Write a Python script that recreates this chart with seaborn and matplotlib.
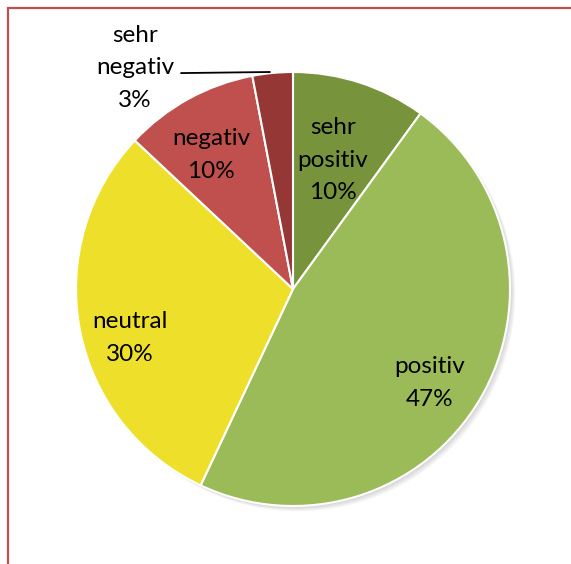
import matplotlib
matplotlib.use("Agg")
import matplotlib.pyplot as plt
from matplotlib.patches import Rectangle, Circle
import seaborn as sns

categories = ["sehr positiv", "positiv", "neutral", "negativ", "sehr negativ"]
values = [10, 47, 30, 10, 3]
label_texts = ["sehr\npositiv\n10%", "positiv\n47%", "neutral\n30%", "negativ\n10%", "sehr\nnegativ\n3%"]
colors = ["#77933C", "#9BBB59", "#EEE02A", "#C0504D", "#953735"]

sns.set_theme(style="white")
plt.rcParams["font.family"] = ["Lato", "DejaVu Sans"]

W, H = 571, 564
fig = plt.figure(figsize=(W / 100, H / 100), dpi=100)
fig.patch.set_facecolor("white")

# frame
fig.patches.append(Rectangle((7.5 / W, -0.1), 1.2, (H - 7.5) / H + 0.1, transform=fig.transFigure,
                             fill=False, edgecolor="#C0504D", linewidth=1.6, zorder=0))

cx, cy, R = 293, 289, 217
ax = fig.add_axes([(cx - R) / W, (H - cy - R) / H, 2 * R / W, 2 * R / H])

wedges, _ = ax.pie(values, colors=colors, startangle=90, counterclock=False, radius=1.0,
                   wedgeprops=dict(edgecolor="white", linewidth=1.5))
for w in wedges:
    w.set_zorder(2)

ax.set_xlim(-1, 1)
ax.set_ylim(-1, 1)
ax.set_aspect("equal")
ax.axis("off")

# soft shadow
for i in range(4):
    off = 0.006 * (i + 1)
    ax.add_patch(Circle((off, -off), 1.0, color="black", alpha=0.045, zorder=0, lw=0, clip_on=False))

pos = [(0.184, 0.594), (0.631, -0.433), (-0.751, -0.226), (-0.378, 0.617), (-0.728, 1.02)]
for t, (x, y) in zip(label_texts, pos):
    ax.text(x, y, t, ha="center", va="center", fontsize=17.5, color="#000000",
            linespacing=1.68, clip_on=False, zorder=5)

ax.plot([-0.516, -0.106], [0.995, 1.0], color="black", lw=1.3, clip_on=False, zorder=5)

fig.savefig("out.png", dpi=100, facecolor="white")
